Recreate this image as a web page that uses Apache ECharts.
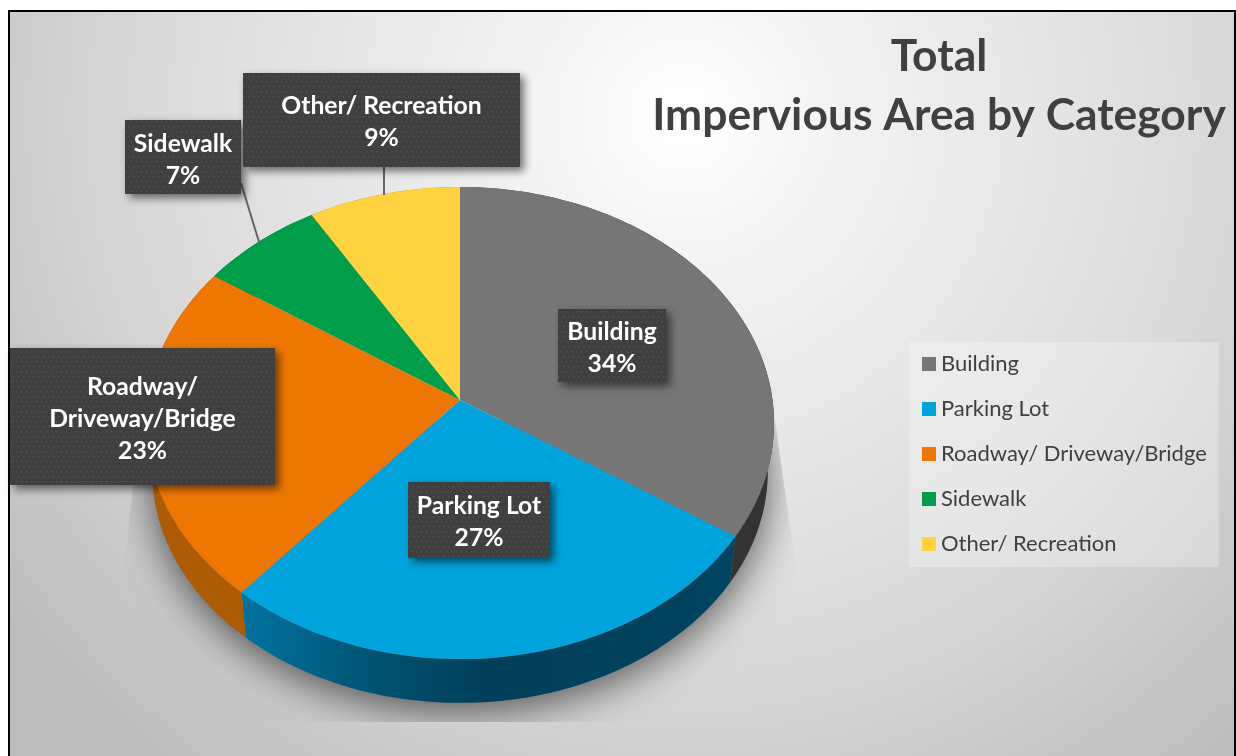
<!DOCTYPE html>
<html><head><meta charset="utf-8">
<style>html,body{margin:0;padding:0;background:#fff}#c{width:1236px;height:756px}</style>
<script src="https://cdn.jsdelivr.net/npm/echarts@6/dist/echarts.min.js"></script>
</head><body><div id="c"></div>
<script>
const categories = ['Building','Parking Lot','Roadway/ Driveway/Bridge','Sidewalk','Other/ Recreation'];
const calloutNames = ['Building','Parking Lot','Roadway/\nDriveway/Bridge','Sidewalk','Other/ Recreation'];
const shares = [34.3,26.9,23.25,6.95,8.6];
const topColors = ['#767676','#00a3dc','#ee7703','#009e4a','#fed33f'];
const FONT = 'Lato, "Open Sans", sans-serif';

// Tilted-disc projection of the pie
const P = {cx:460, cy:400, A:312.5, B:233.8, k:0.0975, wallScale:0.98, wallDrop:49};
function proj(share, scale, drop){
  const t = share/100*2*Math.PI, u=Math.sin(t), v=Math.cos(t), w=1+P.k*v;
  return [P.cx+scale*P.A*u/w, P.cy+drop-scale*P.B*v/w];
}
function arc(a,b,scale,drop){
  const n=Math.max(8,Math.ceil((b-a)*3)), pts=[];
  for(let i=0;i<=n;i++) pts.push(proj(a+(b-a)*i/n,scale,drop));
  return pts;
}
const wallFills = [
  '#333333',
  {type:'linear',x:0,y:0,x2:1,y2:0,colorStops:[{offset:0,color:'#00739e'},{offset:.3,color:'#004f6e'},{offset:.5,color:'#003f5a'},{offset:1,color:'#00445f'}]},
  '#ad5c05','#006b32','#a88a28'
];
const boxes = [
  {x:558,y:309,w:108,h:73,size:24.7,lh:32,dy:3},
  {x:408,y:482,w:142,h:76,size:24.7,lh:32,dy:2},
  {x:10,y:348,w:265,h:137,size:24.7,lh:32,dy:3},
  {x:125,y:120,w:116,h:74,size:24.7,lh:32,dy:3},
  {x:243,y:73,w:277,h:94,size:24.7,lh:32,dy:2}
];
const leaders = [null,null,null,[[241,183],[259,242]],[[384,167],[384,195]]];

const pc=document.createElement('canvas');pc.width=pc.height=10;
const g=pc.getContext('2d');g.fillStyle='#3f3f3f';g.fillRect(0,0,10,10);
g.fillStyle='#525252';[[1,1],[6,1],[3,6],[8,6]].forEach(p=>g.fillRect(p[0],p[1],1.4,1.4));

let cum=0;
const sliceSeries = categories.map((name,i)=>{
  const start=cum; cum+=shares[i];
  return {
    type:'custom', name, coordinateSystem:'none', clip:false, silent:true,
    itemStyle:{color:topColors[i]},
    data:[[start,shares[i]]],
    renderItem(params,api){
      const a=api.value(0), b=a+api.value(1);
      const top=arc(a,b,1,0), low=arc(a,b,P.wallScale,P.wallDrop);
      const kids=[
        {type:'polygon',z2:1,shape:{points:top.concat(low.slice().reverse())},style:{fill:wallFills[i]}},
        {type:'polygon',z2:10,shape:{points:[[P.cx,P.cy]].concat(top)},style:{fill:topColors[i]}}
      ];
      if(leaders[i]) kids.push({type:'polyline',z2:15,shape:{points:leaders[i]},style:{stroke:'#666',lineWidth:2,fill:null}});
      const r=boxes[i];
      kids.push({type:'rect',z2:20,shape:{x:r.x,y:r.y,width:r.w,height:r.h},
        style:{fill:{image:pc,repeat:'repeat'},shadowBlur:9,shadowOffsetX:4,shadowOffsetY:4,shadowColor:'rgba(0,0,0,.55)'}});
      kids.push({type:'text',z2:21,style:{x:r.x+r.w/2,y:r.y+r.h/2+r.dy,text:calloutNames[i]+'\n'+Math.round(api.value(1))+'%',
        align:'center',verticalAlign:'middle',fill:'#fff',font:'bold '+r.size+'px '+FONT,lineHeight:r.lh}});
      return {type:'group',children:kids};
    }
  };
});
const shadowSeries={
  type:'custom',name:'shadow',coordinateSystem:'none',clip:false,silent:true,data:[[0,100]],
  renderItem(params,api){
    const low=arc(api.value(0),api.value(1),P.wallScale,P.wallDrop);
    return {type:'group',clipPath:{type:'polygon',shape:{points:[[140,420],[124,570],[124,722],[796,722],[796,570],[775,420]]}},
      children:[{type:'polygon',z2:0,shape:{points:low},style:{fill:'#777',shadowBlur:40,shadowOffsetY:8,shadowColor:'rgba(0,0,0,.62)'}}]};
  }
};
const chart=echarts.init(document.getElementById('c'),null,{renderer:'canvas'});
chart.setOption({
  animation:false,
  title:{text:'Total\nImpervious Area by Category',left:934,top:22,textAlign:'center',
    textStyle:{fontFamily:FONT,fontWeight:'bold',fontSize:44.4,lineHeight:59,color:'#404040',align:'center'}},
  legend:{data:categories,orient:'vertical',left:909,top:342,itemWidth:14,itemHeight:14,itemGap:21,
    padding:[10,12,11,13],backgroundColor:'rgba(255,255,255,.28)',icon:'rect',selectedMode:false,
    textStyle:{fontFamily:FONT,fontSize:22,lineHeight:24,color:'#404040'}},
  graphic:[{type:'rect',z:-10,silent:true,shape:{x:9,y:11,width:1226,height:760},
    style:{stroke:'#000',lineWidth:2,fill:{type:'radial',x:.55,y:.14,r:1.1,colorStops:[{offset:0,color:'#ffffff'},{offset:.2,color:'#f2f2f2'},{offset:.6,color:'#dcdcdc'},{offset:1,color:'#bdbdbd'}]}}}],
  series:[shadowSeries].concat(sliceSeries)
});
</script></body></html>
